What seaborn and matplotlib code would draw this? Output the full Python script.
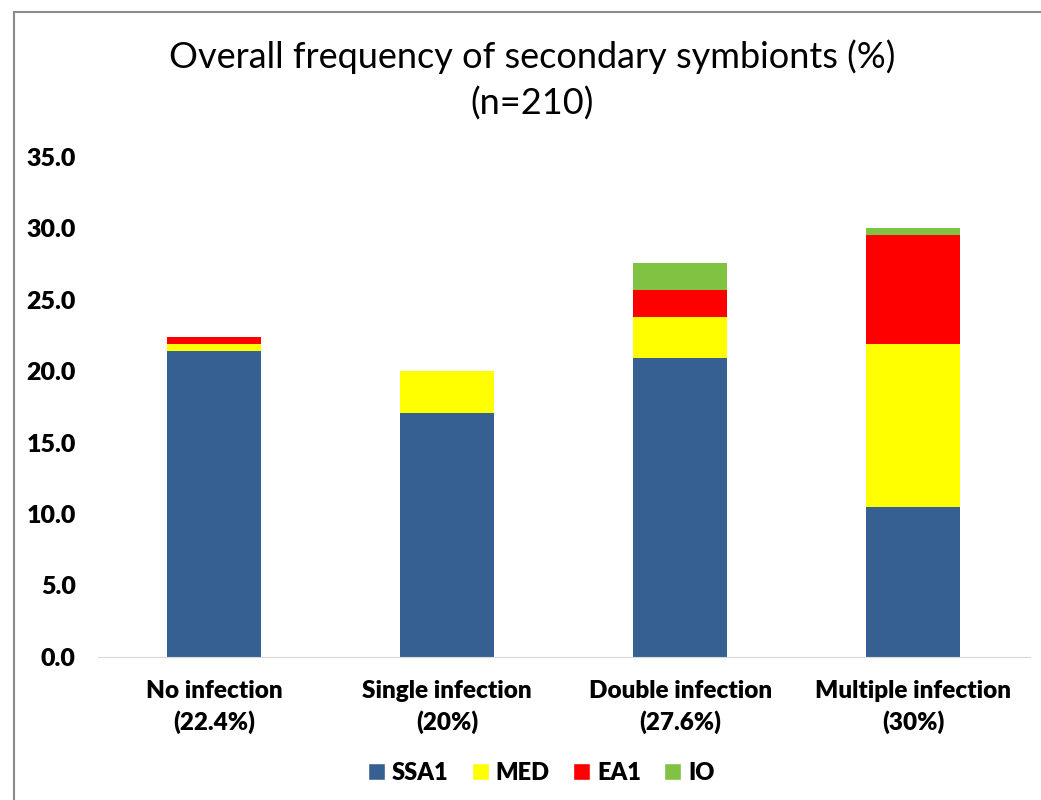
import pandas as pd
import seaborn as sns
import matplotlib.pyplot as plt
from matplotlib.patches import Rectangle, Patch

# Data (% of n=210)
categories = ["No infection\n(22.4%)", "Single infection\n(20%)",
              "Double infection\n(27.6%)", "Multiple infection\n(30%)"]
series = ["SSA1", "MED", "EA1", "IO"]
ssa1 = [21.4, 17.1, 20.9, 10.5]
med = [0.5, 2.9, 2.9, 11.4]
ea1 = [0.5, 0.0, 1.9, 7.6]
io = [0.0, 0.0, 1.9, 0.5]
colors = {"SSA1": "#376092", "MED": "#FFFF00", "EA1": "#FF0000", "IO": "#80C242"}

sns.set_style("white")
plt.rcParams["font.family"] = ["Lato", "DejaVu Sans"]
plt.rcParams["text.color"] = "black"
plt.rcParams["xtick.color"] = "black"
plt.rcParams["ytick.color"] = "black"

df = pd.DataFrame({"category": categories, "SSA1": ssa1, "MED": med,
                   "EA1": ea1, "IO": io})
# cumulative stacks, drawn top layer first so lower layers sit on top
cum = df[series].cumsum(axis=1)
cum["category"] = df["category"]

fig = plt.figure(figsize=(10.41, 8), dpi=100)
ax = fig.add_axes([0.094, 0.179, 0.895, 0.625])

for s in reversed(series):
    sns.barplot(data=cum, x="category", y=s, color=colors[s], width=0.405,
                saturation=1, linewidth=0, ax=ax, order=categories)

ax.set_ylim(0, 35)
ax.set_xlim(-0.5, 3.5)
ax.set_yticks(range(0, 36, 5))
ax.set_yticklabels([f"{v:.1f}" for v in range(0, 36, 5)],
                   fontsize=18, fontweight="heavy")
ax.set_xticks(range(4))
ax.set_xticklabels(categories, fontsize=17.5, fontweight="heavy",
                   linespacing=1.4)
ax.set_xticks([-0.5, 0.5, 1.5, 2.5, 3.5], minor=True)
ax.tick_params(axis="x", which="major", length=0, pad=17)
ax.tick_params(axis="x", which="minor", length=7, color="#D9D9D9", width=1)
ax.tick_params(axis="y", length=0, pad=16)
ax.set_xlabel("")
ax.set_ylabel("")
for side in ["top", "right", "left"]:
    ax.spines[side].set_visible(False)
ax.spines["bottom"].set_color("#D9D9D9")

handles = [Patch(facecolor=colors[s], label=s) for s in series]
fig.legend(handles=handles, loc="center", bbox_to_anchor=(0.52, 0.034),
           ncol=4, frameon=False, handlelength=0.7, handleheight=0.7,
           handletextpad=0.3, columnspacing=1.0,
           prop={"size": 17, "weight": "heavy"})

fig.text(0.511, 0.929, "Overall frequency of secondary symbionts (%)",
         ha="center", va="center", fontsize=26)
fig.text(0.511, 0.871, "(n=210)", ha="center", va="center", fontsize=26)

fig.patches.append(Rectangle((14 / 1041, -0.05), 1.1, 1.035,
                             transform=fig.transFigure, fill=False,
                             edgecolor="#8C8C8C", linewidth=1.5))

fig.savefig("out.png", dpi=100)
